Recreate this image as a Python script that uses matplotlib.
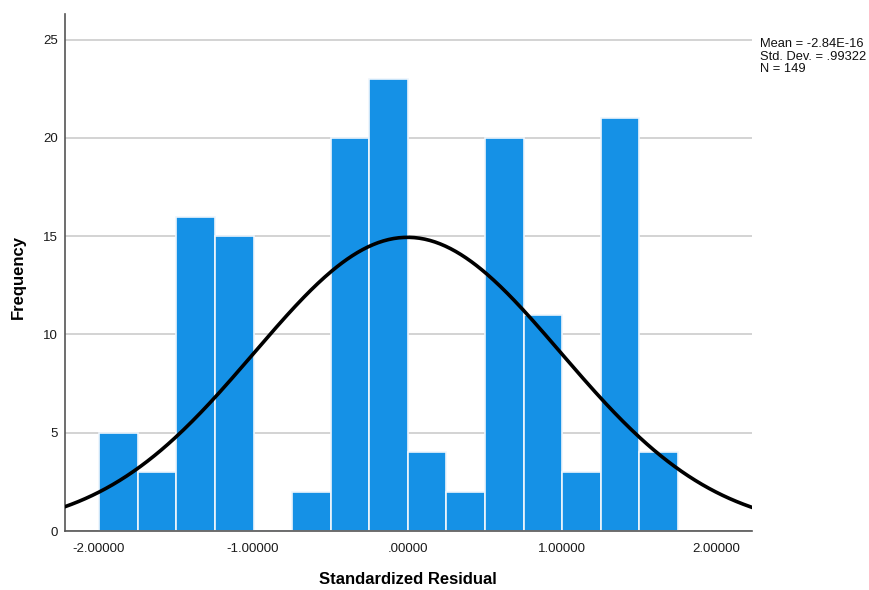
import numpy as np
import matplotlib
matplotlib.use("Agg")
import matplotlib.pyplot as plt

# histogram of standardized residuals (counts)
bin_start = -1.995
bin_width = 0.2497
counts = [5, 3, 16, 15, 0, 2, 20, 23, 4, 2, 20, 11, 3, 21, 4]
mean = -2.84e-16
std = 0.99322
n = 149
x_ticks = [-2.0, -1.0, 0.0, 1.0, 2.0]
x_tick_labels = ["-2.00000", "-1.00000", ".00000", "1.00000", "2.00000"]
y_ticks = [0, 5, 10, 15, 20, 25]

plt.rcParams['font.family'] = ['Liberation Sans', 'DejaVu Sans']

fig = plt.figure(figsize=(8.69, 5.90), dpi=100)
ax = fig.add_axes([0.0748, 0.1, 0.7906, 0.876])

edges = bin_start + bin_width * np.arange(len(counts) + 1)
ax.bar(edges[:-1], counts, width=bin_width, align='edge',
       color='#1591e6', edgecolor='#eef5fc', linewidth=1.2, zorder=2)

# normal curve scaled to counts
xs = np.linspace(-2.22, 2.23, 400)
ys = n * bin_width * np.exp(-0.5 * ((xs - mean) / std) ** 2) / (std * np.sqrt(2 * np.pi))
ax.plot(xs, ys, color='black', linewidth=2.6, zorder=3)

ax.set_xlim(-2.217, 2.23)
ax.set_ylim(0, 26.3)
ax.set_xticks(x_ticks)
ax.set_xticklabels(x_tick_labels)
ax.set_yticks(y_ticks)
ax.tick_params(length=0, labelsize=9.5, colors='#1a1a1a')
ax.tick_params(axis='x', pad=9)
ax.tick_params(axis='y', pad=5)
ax.yaxis.grid(True, color='#cccccc', linewidth=1.2, zorder=0)
ax.set_axisbelow(True)
for s in ['top', 'right']:
    ax.spines[s].set_visible(False)
for s in ['left', 'bottom']:
    ax.spines[s].set_color('#555555')
    ax.spines[s].set_linewidth(1.2)

fig.text(408 / 869, 1 - 580 / 590, "Standardized Residual",
         fontsize=12, fontweight='bold', ha='center', va='center')
fig.text(18 / 869, 1 - 277 / 590, "Frequency",
         fontsize=12, fontweight='bold', ha='center', va='center', rotation=90)

fig.text(760 / 869, 1 - 38 / 590,
         "Mean = -2.84E-16\nStd. Dev. = .99322\nN = 149",
         fontsize=9.3, va='top', ha='left', linespacing=1.08, color='#111111')

fig.savefig("out.png", dpi=100)
